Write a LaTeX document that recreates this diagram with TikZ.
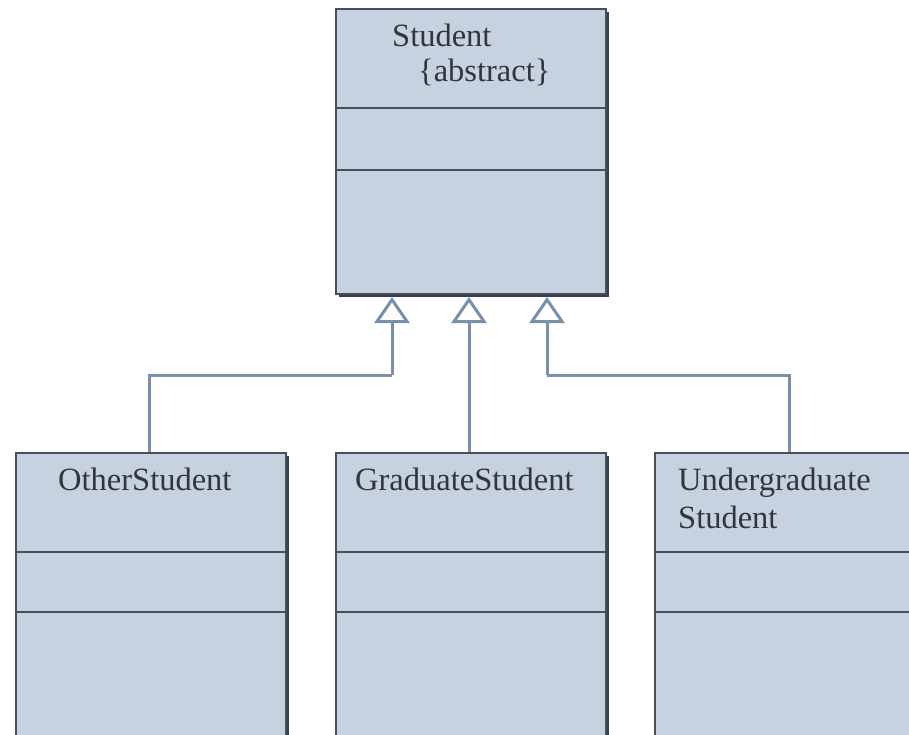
\documentclass[tikz,border=0pt]{standalone}
\usepackage{fontspec}
\setmainfont{Liberation Serif}
\usetikzlibrary{arrows.meta,shadows}
\definecolor{boxfill}{HTML}{C6D2DF}
\definecolor{boxline}{HTML}{46505A}
\definecolor{shadowc}{HTML}{3A4048}
\definecolor{connc}{HTML}{7890AA}
\definecolor{txtc}{HTML}{30363C}
\tikzset{
  classbox/.style={draw=boxline, line width=2pt, fill=boxfill, anchor=north west,
    inner sep=0pt, minimum width=270pt,
    drop shadow={shadow xshift=3pt, shadow yshift=-3pt, fill=shadowc, opacity=1}},
  divline/.style={draw=boxline, line width=2.4pt},
  classtxt/.style={anchor=base west, inner sep=0pt, text=txtc,
    font=\fontsize{32.5}{38}\selectfont},
  conn/.style={draw=connc, line width=3pt,
    -{Triangle[open, length=26pt, width=35pt, line width=3pt]}},
  connplain/.style={draw=connc, line width=3pt}
}
\begin{document}
\begin{tikzpicture}[x=1pt,y=-1pt]
\useasboundingbox (0,0) rectangle (909,735);
\begin{scope}
\clip (0,0) rectangle (909,735);
% classes
\node[classbox, minimum height=285pt] (st) at (335,8) {};
\node[classbox, minimum height=320pt] (os) at (15,452) {};
\node[classbox, minimum height=320pt] (gs) at (335,452) {};
\node[classbox, minimum height=320pt] (us) at (654,452) {};
% compartments
\draw[divline] ([yshift=-100pt]st.north west) -- ([yshift=-100pt]st.north east);
\draw[divline] ([yshift=-162pt]st.north west) -- ([yshift=-162pt]st.north east);
\foreach \n in {os,gs,us}{
  \draw[divline] ([yshift=-100pt]\n.north west) -- ([yshift=-100pt]\n.north east);
  \draw[divline] ([yshift=-160pt]\n.north west) -- ([yshift=-160pt]\n.north east);
}
% texts
\node[classtxt] (t1) at (392,47) {Student};
\node[classtxt] (t2) at (418,82) {\{abstract\}};
\node[classtxt] (t3) at (58,490) {OtherStudent};
\node[classtxt] (t4) at (355,490) {GraduateStudent};
\node[classtxt] (t5) at (678,490) {Undergraduate};
\node[classtxt] (t6) at (678,528) {Student};
% connectors
\coordinate (a1) at (392,297);
\coordinate (a2) at (469,297);
\coordinate (a3) at (547,297);
\coordinate (j1) at (392,375);
\coordinate (j3) at (547,375);
\coordinate (b1) at (149,375);
\coordinate (b3) at (789,375);
\coordinate (o1) at (os.north -| b1);
\coordinate (o3) at (us.north -| b3);
\draw[connplain] (o1) -- (b1) -- (j1);
\draw[conn] (j1) -- (a1);
\draw[conn] (gs.north -| a2) -- (a2);
\draw[connplain] (o3) -- (b3) -- (j3);
\draw[conn] (j3) -- (a3);
\end{scope}
\end{tikzpicture}
\end{document}
